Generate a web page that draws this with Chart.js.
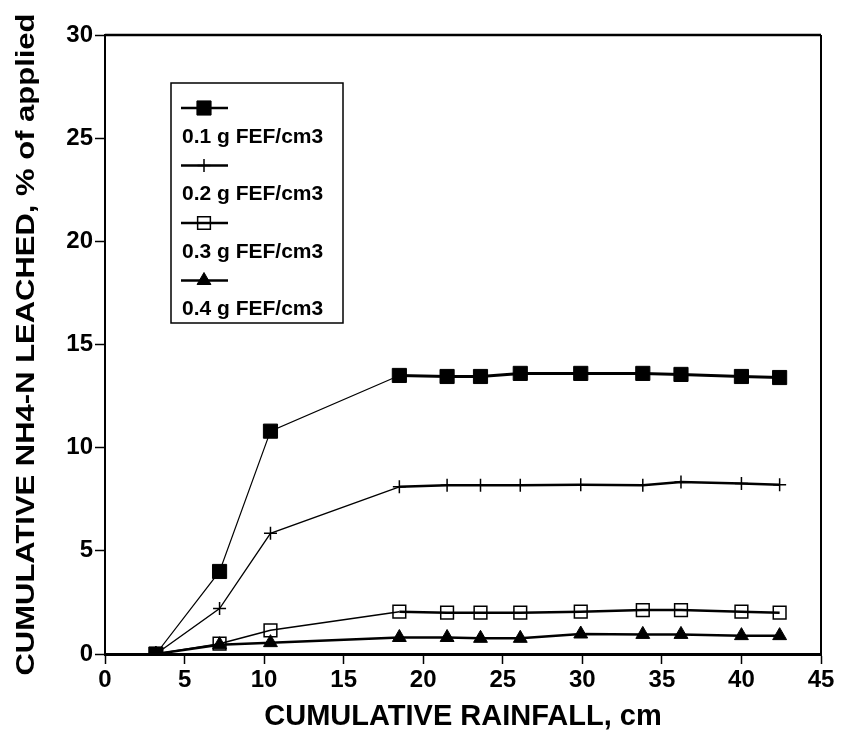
<html>
  <head>
    <script src="https://cdn.jsdelivr.net/npm/chart.js@4.4.0/dist/chart.umd.min.js"></script>
    <style>
      body { margin: 0; background: #fff; }
    </style>
  </head>
  <body>
    <canvas id="leachChart" width="842" height="734"></canvas>
    <script>
      // cumulative rainfall (cm) at each sampling
      let rainfall = [3.2, 7.2, 10.4, 18.5, 21.5, 23.6, 26.1, 29.9, 33.8, 36.2, 40.0, 42.4];

      // cumulative NH4-N leached, % of applied
      let fef01 = [0, 4.0, 10.8, 13.5, 13.45, 13.45, 13.6, 13.6, 13.6, 13.55, 13.45, 13.4];
      let fef02 = [0, 2.2, 5.85, 8.1, 8.18, 8.18, 8.18, 8.2, 8.18, 8.34, 8.26, 8.2];
      let fef03 = [0, 0.5, 1.15, 2.05, 2.0, 2.0, 2.0, 2.05, 2.13, 2.13, 2.05, 2.0];
      let fef04 = [0, 0.45, 0.55, 0.8, 0.8, 0.76, 0.76, 0.97, 0.95, 0.95, 0.89, 0.89];

      let seriesLabels = ['0.1 g FEF/cm3', '0.2 g FEF/cm3', '0.3 g FEF/cm3', '0.4 g FEF/cm3'];
      let xTickValues = [0, 5, 10, 15, 20, 25, 30, 35, 40, 45];
      let yTickValues = [0, 5, 10, 15, 20, 25, 30];
      let xTitle = 'CUMULATIVE RAINFALL, cm';
      let yTitle = 'CUMULATIVE NH4-N LEACHED, % of applied';

      const FONT = '"Liberation Sans", Arial, Helvetica, sans-serif';

      function toPoints(ys) {
        return rainfall.map((x, i) => ({ x: x, y: ys[i] }));
      }

      // thin rising segments, heavier plateau
      function widthBy(early, late) {
        return ctx => (ctx.p1DataIndex <= 3 ? early : late);
      }

      // top and right edges of the plot box
      const frame = {
        id: 'frame',
        beforeDatasetsDraw(chart) {
          const { ctx, chartArea: a } = chart;
          ctx.save();
          ctx.strokeStyle = '#000';
          ctx.lineWidth = 2.5;
          ctx.beginPath();
          ctx.moveTo(a.left, a.top);
          ctx.lineTo(a.right, a.top);
          ctx.stroke();
          ctx.lineWidth = 2;
          ctx.beginPath();
          ctx.moveTo(a.right, a.top);
          ctx.lineTo(a.right, a.bottom);
          ctx.stroke();
          ctx.restore();
        }
      };

      // long rotated y title, stretched to run the height of the axis
      const sideTitle = {
        id: 'sideTitle',
        afterDraw(chart) {
          const { ctx, chartArea: a } = chart;
          ctx.save();
          ctx.font = 'bold 26px ' + FONT;
          const w = ctx.measureText(yTitle).width;
          ctx.translate(34, (a.top + a.bottom) / 2);
          ctx.rotate(-Math.PI / 2);
          ctx.scale(662 / w, 1);
          ctx.textAlign = 'center';
          ctx.textBaseline = 'alphabetic';
          ctx.fillStyle = '#000';
          ctx.fillText(yTitle, 0, 0);
          ctx.restore();
        }
      };

      // boxed legend: sample line with marker, label underneath
      const boxLegend = {
        id: 'boxLegend',
        afterDraw(chart) {
          const ctx = chart.ctx;
          ctx.save();
          ctx.strokeStyle = '#000';
          ctx.lineWidth = 1.5;
          ctx.strokeRect(171, 83, 172, 240);
          chart.data.datasets.forEach((ds, i) => {
            const y = 108 + i * 57.5;
            ctx.strokeStyle = '#000';
            ctx.lineWidth = 2.5;
            ctx.beginPath();
            ctx.moveTo(181, y);
            ctx.lineTo(228, y);
            ctx.stroke();
            ctx.fillStyle = ds.pointBackgroundColor;
            ctx.lineWidth = ds.pointBorderWidth;
            Chart.helpers.drawPoint(ctx, {
              pointStyle: ds.pointStyle,
              radius: ds.pointRadius,
              borderWidth: ds.pointBorderWidth,
              rotation: 0
            }, 204, y);
            ctx.fillStyle = '#000';
            ctx.font = 'bold 21px ' + FONT;
            ctx.textAlign = 'left';
            ctx.textBaseline = 'middle';
            ctx.fillText(ds.label, 182, y + 29);
          });
          ctx.restore();
        }
      };

      new Chart(document.getElementById('leachChart'), {
        type: 'line',
        data: {
          datasets: [{
            label: seriesLabels[0],
            data: toPoints(fef01),
            borderColor: '#000',
            borderWidth: 3,
            segment: { borderWidth: widthBy(1.2, 3) },
            pointStyle: 'rect',
            pointRadius: 10,
            pointBackgroundColor: '#000',
            pointBorderColor: '#000',
            pointBorderWidth: 1
          }, {
            label: seriesLabels[1],
            data: toPoints(fef02),
            borderColor: '#000',
            borderWidth: 2.5,
            segment: { borderWidth: widthBy(1.3, 2.5) },
            pointStyle: 'cross',
            pointRadius: 6.5,
            pointBackgroundColor: '#000',
            pointBorderColor: '#000',
            pointBorderWidth: 1.5
          }, {
            label: seriesLabels[2],
            data: toPoints(fef03),
            borderColor: '#000',
            borderWidth: 2.2,
            segment: { borderWidth: widthBy(1.6, 2.4) },
            pointStyle: 'rect',
            pointRadius: 9,
            pointBackgroundColor: 'rgba(0,0,0,0)',
            pointBorderColor: '#000',
            pointBorderWidth: 1.5
          }, {
            label: seriesLabels[3],
            data: toPoints(fef04),
            borderColor: '#000',
            borderWidth: 2.5,
            pointStyle: 'triangle',
            pointRadius: 8,
            pointBackgroundColor: '#000',
            pointBorderColor: '#000',
            pointBorderWidth: 1
          }]
        },
        options: {
          responsive: false,
          animation: false,
          layout: { padding: { top: 35, right: 21, bottom: 0, left: 0 } },
          plugins: {
            legend: { display: false },
            tooltip: { enabled: false }
          },
          scales: {
            x: {
              type: 'linear',
              min: 0,
              max: 45,
              afterBuildTicks: s => { s.ticks = xTickValues.map(v => ({ value: v })); },
              afterFit: s => { s.height = 80; },
              border: { color: '#000', width: 3 },
              grid: { drawOnChartArea: false, color: '#000', tickLength: 10, tickWidth: 1.5 },
              ticks: { color: '#000', padding: 2, maxRotation: 0, font: { family: FONT, size: 24, weight: 'bold' } },
              title: {
                display: true,
                text: xTitle,
                color: '#000',
                padding: { top: 4, bottom: 0 },
                font: { family: FONT, size: 29, weight: 'bold' }
              }
            },
            y: {
              min: 0,
              max: 30,
              afterBuildTicks: s => { s.ticks = yTickValues.map(v => ({ value: v })); },
              afterFit: s => { s.width = 105; },
              border: { color: '#000', width: 2 },
              grid: { drawOnChartArea: false, color: '#000', tickLength: 10, tickWidth: 1.5 },
              ticks: { color: '#000', padding: 2, font: { family: FONT, size: 24, weight: 'bold' } }
            }
          }
        },
        plugins: [frame, sideTitle, boxLegend]
      });
    </script>
  </body>
</html>
